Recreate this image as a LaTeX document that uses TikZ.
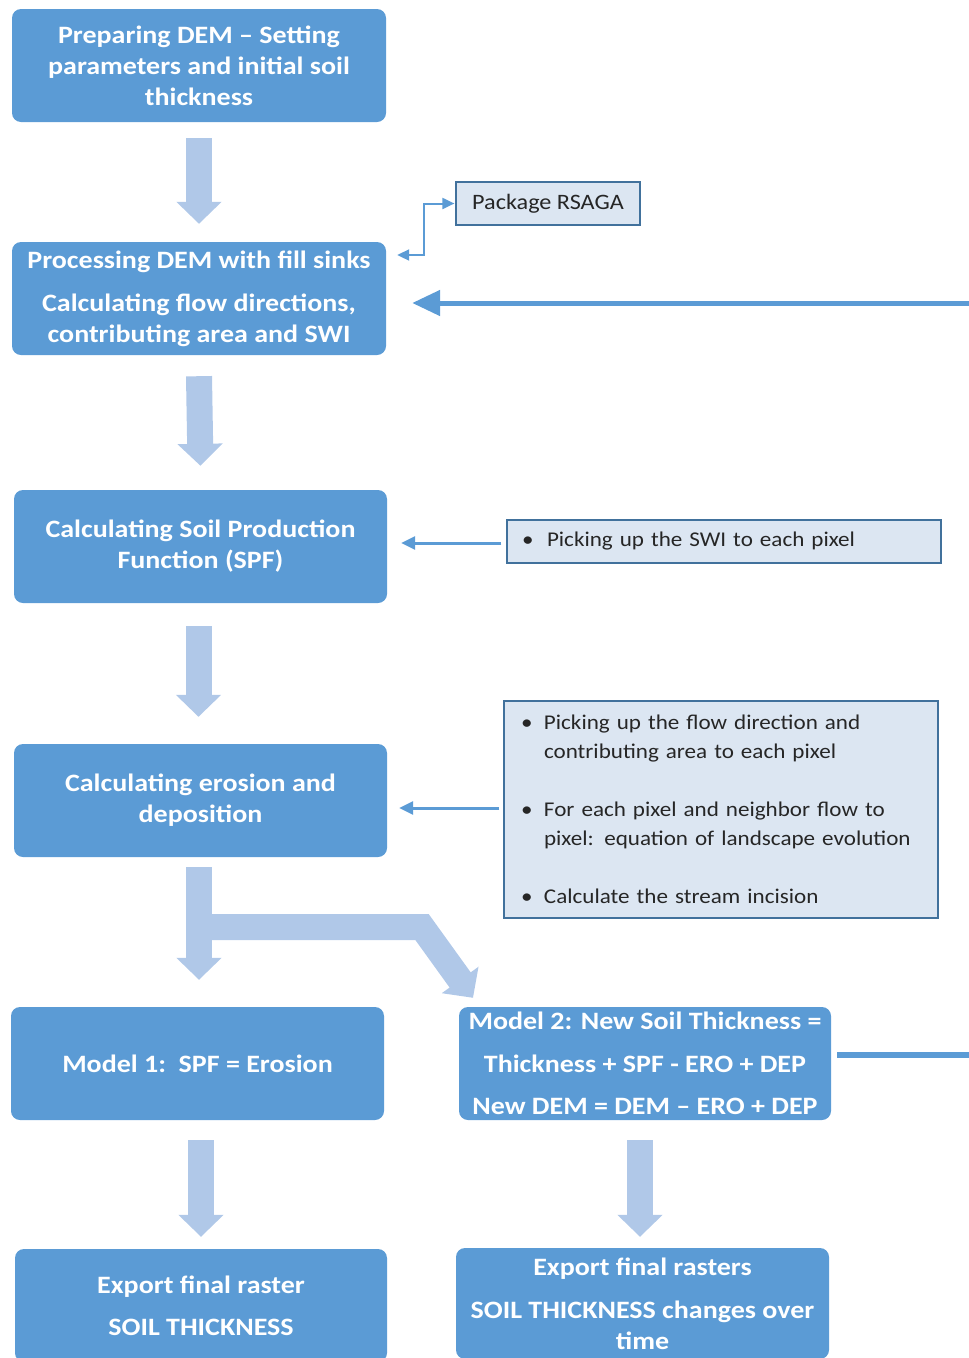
\documentclass[tikz,border=0pt]{standalone}
\usepackage{fontspec}
\setmainfont{Carlito}[FakeStretch=1.12]
\newfontfamily\notefont{Carlito}[FakeStretch=1.1]
\usetikzlibrary{arrows.meta}
\definecolor{boxblue}{HTML}{5B9BD5}
\definecolor{arrowlight}{HTML}{B0C8E8}
\definecolor{notefill}{HTML}{DCE6F2}
\definecolor{noteborder}{HTML}{41719C}
\definecolor{linkblue}{HTML}{5B9BD5}
\definecolor{txtdark}{HTML}{262626}
\begin{document}
\begin{tikzpicture}[x=1pt,y=-1pt,
  stepbox/.style={fill=boxblue, rounded corners=9pt, minimum width=374pt,
    minimum height=113pt, text=white, inner sep=0pt, align=center,
    font=\fontsize{25}{31}\selectfont\bfseries},
  notebox/.style={fill=notefill, draw=noteborder, line width=1.2pt, text=txtdark,
    font=\notefont\fontsize{21}{29}\selectfont},
  blockarrow/.style={draw=arrowlight, line width=26pt,
    -{Triangle[width=44pt,length=22pt]}},
  feedline/.style={draw=linkblue, line width=3pt,
    -{Triangle[width=13pt,length=14pt]}},
  bigfeed/.style={draw=linkblue, line width=5pt,
    -{Triangle[width=25pt,length=28pt]}},
  thinlink/.style={draw=linkblue, line width=2pt,
    {Triangle[width=11pt,length=12pt]}-{Triangle[width=11pt,length=12pt]}},
  plainline/.style={draw=linkblue, line width=6pt}
]
\useasboundingbox (0,0) rectangle (969,1358);

% main boxes
\node[stepbox] (prep) at (199,65.5) {Preparing DEM -- Setting\\parameters and initial soil\\thickness};
\node[stepbox] (proc) at (199,298.5) {Processing DEM with fill sinks\\[12pt]Calculating flow directions,\\contributing area and SWI};
\node[stepbox, minimum width=373pt] (spf) at (200.5,546.5) {Calculating Soil Production\\Function (SPF)};
\node[stepbox, minimum width=373pt] (ero) at (200.5,800.5) {Calculating erosion and\\deposition};
\node[stepbox, minimum width=373pt] (mod1) at (197.5,1063.5) {Model 1:\ \ SPF = Erosion};
\node[stepbox, minimum width=372pt] (mod2) at (645,1063.5) {Model 2: New Soil Thickness =\\[12pt]Thickness + SPF - ERO + DEP\\[11pt]New DEM = DEM -- ERO + DEP};
\node[stepbox, minimum width=372pt] (exp1) at (201,1305.5) {Export final raster\\[11pt]SOIL THICKNESS};
\node[stepbox, minimum width=373pt, minimum height=111pt] (exp2) at (642.5,1303.5) {Export final rasters\\[12pt]SOIL THICKNESS changes over\\time};

% note boxes
\node[notebox, minimum width=184pt, minimum height=43pt, inner sep=0pt, font=\notefont\fontsize{22}{29}\selectfont] (rsaga) at (548,203.5) {Package RSAGA};
\node[notebox, text width=404pt, inner xsep=15pt, minimum height=43pt, align=left] (note1) at (724,541.5)
  {\makebox[25pt][l]{\textbullet}Picking up the SWI to each pixel};
\node[notebox, text width=400pt, inner xsep=17pt, minimum height=217pt, align=left] (note2) at (721,809.5)
  {\makebox[23pt][l]{\textbullet}Picking up the flow direction and\\
   \hspace*{23pt}contributing area to each pixel\\[29pt]
   \makebox[23pt][l]{\textbullet}For each pixel and neighbor flow to\\
   \hspace*{23pt}pixel: equation of landscape evolution\\[29pt]
   \makebox[23pt][l]{\textbullet}Calculate the stream incision};

% free ends of the loop lines
\coordinate (loopR) at (969,303);
\coordinate (loopB) at (969,1055);

% block arrows
\draw[blockarrow] ([yshift=-16pt]prep.south) -- ([yshift=18pt]proc.north);
\draw[blockarrow] ([yshift=-21pt]proc.south) -- ([yshift=24pt]spf.north);
\draw[blockarrow] ([xshift=-2pt,yshift=-23pt]spf.south) -- ([xshift=-2pt,yshift=27pt]ero.north);
\draw[blockarrow] ([xshift=-1.5pt,yshift=-10pt]ero.south) -- ([xshift=1.5pt,yshift=27pt]mod1.north);
\draw[blockarrow, line join=miter] ([xshift=-1.5pt,yshift=-70pt]ero.south) -- (422,927) -- ([xshift=-172pt,yshift=9pt]mod2.north);
\draw[blockarrow] ([xshift=3.5pt,yshift=-20pt]mod1.south) -- ([xshift=0pt,yshift=12pt]exp1.north);
\draw[blockarrow] ([xshift=-5pt,yshift=-20pt]mod2.south) -- ([xshift=-2.5pt,yshift=11pt]exp2.north);

% feedback connectors
\draw[thinlink] ([xshift=-1pt]rsaga.west) -- ++(-30,0) |- ([xshift=11pt,yshift=43.5pt]proc.east);
\draw[bigfeed] (loopR) -- ([xshift=26pt,yshift=-4.5pt]proc.east);
\draw[feedline] ([xshift=-5pt,yshift=-1.5pt]note1.west) -- ([xshift=14pt,yshift=3.5pt]spf.east);
\draw[feedline] ([xshift=-4pt,yshift=1.5pt]note2.west) -- ([xshift=12pt,yshift=-7.5pt]ero.east);
\draw[plainline] ([xshift=6pt,yshift=8.5pt]mod2.east) -- (loopB);
\end{tikzpicture}
\end{document}
